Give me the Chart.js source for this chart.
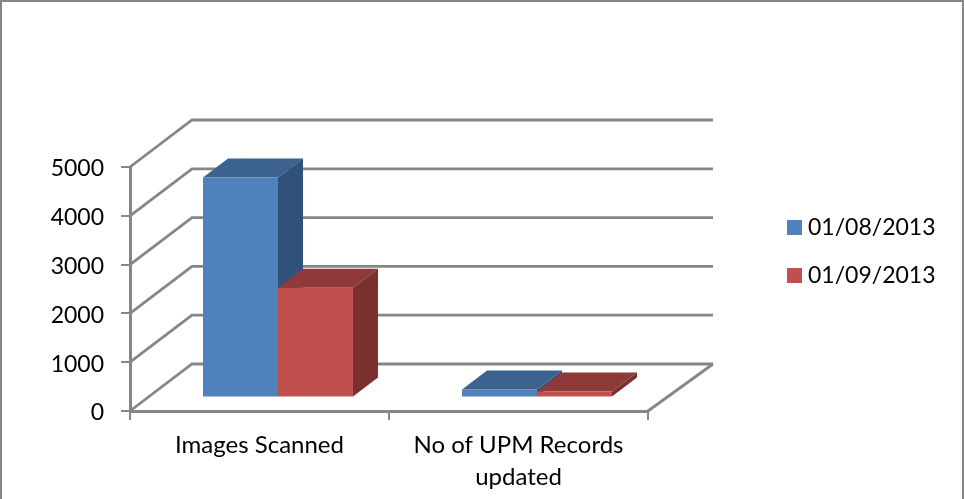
<!DOCTYPE html>
<html lang="en">
<head>
    <meta charset="UTF-8">
    <title>Images Scanned</title>
    <script src="https://cdn.jsdelivr.net/npm/chart.js@4/dist/chart.umd.min.js"></script>
    <style>
        html, body { margin: 0; padding: 0; background: #fff; overflow: hidden; }
        #wrap { position: relative; width: 964px; height: 499px; }
        #legend { position: absolute; left: 787px; top: 208px; font: 23px Lato, sans-serif; color: #000; }
        #legend div { height: 48px; line-height: 36px; white-space: nowrap; }
        #legend span { display: inline-block; width: 15px; height: 15px; margin-right: 6px; }
    </style>
</head>
<body>
<div id="wrap">
    <canvas id="acquisitions" width="964" height="499"></canvas>
    <div id="legend"></div>
</div>
<script>
const categories = ["Images Scanned", ["No of UPM Records", "updated"]];
const seriesNames = ["01/08/2013", "01/09/2013"];
const values1 = [4510, 165];
const values2 = [2250, 125];
const yTicks = [0, 1000, 2000, 3000, 4000, 5000];

const frontColors = ["#4F81BD", "#C0504D"];
const topColors = ["#3C6290", "#8D3A38"];
const sideColors = ["#30527A", "#7A302E"];
const gridColor = "#868686";

// depth of the box on screen, and how far bars stand in from the front edge
const wallDx = 62, wallRightDx = 65, wallDy = -47;
const barShiftX = 18.5, barShiftY = -13.5;
const barDepthX = 25, barDepthY = -19;

function poly(ctx, color, pts) {
    ctx.fillStyle = color;
    ctx.beginPath();
    pts.forEach((p, i) => i ? ctx.lineTo(p[0], p[1]) : ctx.moveTo(p[0], p[1]));
    ctx.closePath();
    ctx.fill();
}

const fake3d = {
    id: 'fake3d',
    beforeDraw(chart) {
        const ctx = chart.ctx, a = chart.chartArea, y = chart.scales.y;
        // frame of the chart object, bottom edge is cropped off
        ctx.save();
        ctx.strokeStyle = gridColor;
        ctx.lineWidth = 2;
        ctx.strokeRect(1, 1, chart.width - 2, chart.height + 10);
        // side wall and back wall
        ctx.lineWidth = 2.8;
        yTicks.forEach(v => {
            const py = y.getPixelForValue(v);
            ctx.beginPath();
            ctx.moveTo(a.left, py);
            ctx.lineTo(a.left + wallDx, py + wallDy);
            ctx.lineTo(a.right + wallRightDx, py + wallDy);
            ctx.stroke();
        });
        // floor right edge
        ctx.beginPath();
        ctx.moveTo(a.right, a.bottom);
        ctx.lineTo(a.right + wallRightDx, a.bottom + wallDy);
        ctx.stroke();
        ctx.restore();
    },
    beforeDatasetsDraw(chart) {
        const ctx = chart.ctx;
        ctx.save();
        ctx.translate(barShiftX, barShiftY);
        chart.data.datasets.forEach((ds, i) => {
            chart.getDatasetMeta(i).data.forEach(el => {
                const l = el.x - el.width / 2, r = el.x + el.width / 2;
                poly(ctx, topColors[i], [[l, el.y], [r, el.y], [r + barDepthX, el.y + barDepthY], [l + barDepthX, el.y + barDepthY]]);
                poly(ctx, sideColors[i], [[r, el.y], [r + barDepthX, el.y + barDepthY], [r + barDepthX, el.base + barDepthY], [r, el.base]]);
            });
        });
    },
    afterDatasetsDraw(chart) {
        chart.ctx.restore();
    }
};

const ctx = document.getElementById('acquisitions').getContext('2d');
const myChart = new Chart(ctx, {
    type: 'bar',
    data: {
        labels: categories,
        datasets: [
            { label: seriesNames[0], data: values1, backgroundColor: frontColors[0] },
            { label: seriesNames[1], data: values2, backgroundColor: frontColors[1] }
        ]
    },
    options: {
        responsive: false,
        animation: false,
        layout: { padding: { top: 167, right: 316, left: 0, bottom: 0 } },
        datasets: { bar: { categoryPercentage: 0.579, barPercentage: 1 } },
        plugins: { legend: { display: false }, tooltip: { enabled: false } },
        scales: {
            x: {
                afterFit(scale) { scale.height = 88; },
                border: { color: gridColor, width: 3 },
                grid: { drawOnChartArea: false, color: gridColor, lineWidth: 2, tickLength: 9 },
                ticks: {
                    color: '#000',
                    maxRotation: 0,
                    padding: 9,
                    font: { family: 'Lato', size: 24, lineHeight: 1.33 }
                }
            },
            y: {
                min: 0,
                max: 5000,
                afterFit(scale) { scale.width = 130; },
                border: { color: gridColor, width: 3 },
                grid: { drawOnChartArea: false, color: gridColor, lineWidth: 2, tickLength: 9 },
                ticks: {
                    stepSize: 1000,
                    color: '#000',
                    padding: 17,
                    labelOffset: 2,
                    callback: v => String(v),
                    font: { family: 'Lato', size: 23 }
                }
            }
        }
    },
    plugins: [fake3d]
});

document.getElementById('legend').innerHTML = myChart.data.datasets.map(ds =>
    '<div><span style="background:' + ds.backgroundColor + '"></span>' + ds.label + '</div>'
).join('');
</script>
</body>
</html>
